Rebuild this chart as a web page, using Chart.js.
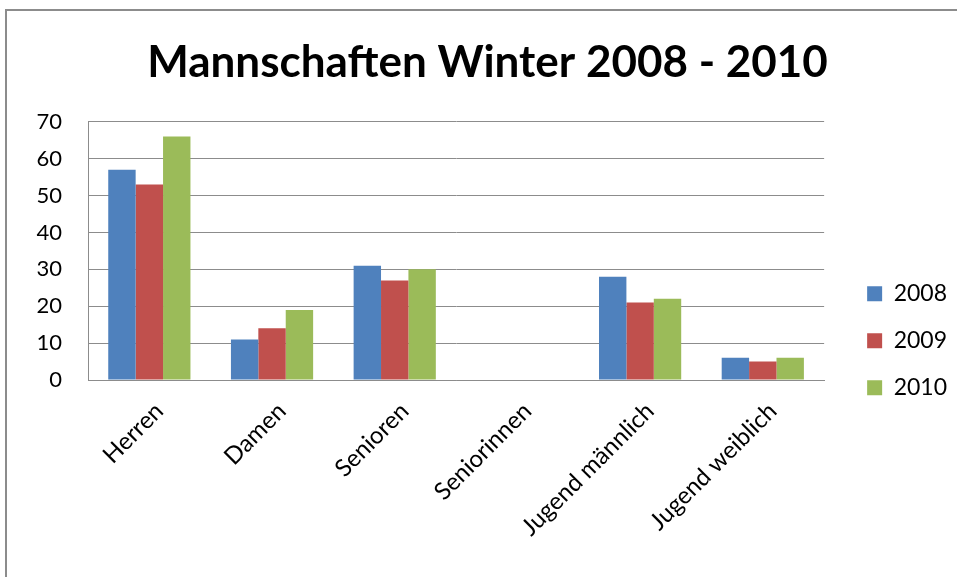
<!DOCTYPE html>
<html>
<head>
<meta charset="utf-8">
<script src="https://cdn.jsdelivr.net/npm/chart.js@4"></script>
<style>
    html, body { margin: 0; padding: 0; background: #fff; overflow: hidden; }
    #wrap { position: relative; width: 957px; height: 577px; }
    #frame {
        position: absolute; left: 5px; top: 9px; width: 1200px; height: 900px;
        border-top: 2px solid #8c8c8c; border-left: 2px solid #8c8c8c;
    }
    canvas { position: absolute; left: 0; top: 0; }
</style>
</head>
<body>
<div id="wrap">
    <div id="frame"></div>
    <canvas id="chart" width="957" height="577"></canvas>
</div>
<script>
// Data
const categories = ['Herren', 'Damen', 'Senioren', 'Seniorinnen', 'Jugend männlich', 'Jugend weiblich'];
const years = ['2008', '2009', '2010'];
const values2008 = [57, 11, 31, 0, 28, 6];
const values2009 = [53, 14, 27, 0, 21, 5];
const values2010 = [66, 19, 30, 0, 22, 6];
const yTicks = [0, 10, 20, 30, 40, 50, 60, 70];

// Excel 2007 colours
const colors = ['#4F81BD', '#C0504D', '#9BBB59'];
const fontFamily = 'Lato, "Open Sans", sans-serif';

const seriesValues = [values2008, values2009, values2010];

const datasets = years.map((year, i) => ({
    label: year,
    data: seriesValues[i],
    backgroundColor: colors[i],
    borderWidth: 0,
    categoryPercentage: 0.67,
    barPercentage: 1.0
}));

const ctx = document.getElementById('chart').getContext('2d');
const chart = new Chart(ctx, {
    type: 'bar',
    data: {
        labels: categories,
        datasets: datasets
    },
    options: {
        responsive: false,
        animation: false,
        layout: {
            padding: { top: 10, left: 18, right: 0, bottom: 0 }
        },
        plugins: {
            title: {
                display: true,
                text: 'Mannschaften Winter 2008 - 2010',
                color: '#000',
                font: { family: fontFamily, size: 44, weight: 'bold' },
                padding: { top: 26, bottom: 33 }
            },
            legend: {
                position: 'right',
                // empty title only pushes the legend entries down
                title: {
                    display: true,
                    text: '',
                    font: { size: 12 },
                    padding: { top: 40, bottom: 40 }
                },
                labels: {
                    boxWidth: 15,
                    boxHeight: 15,
                    padding: 24,
                    color: '#000',
                    font: { family: fontFamily, size: 23 }
                }
            },
            tooltip: { enabled: false }
        },
        scales: {
            x: {
                grid: { display: false },
                border: { display: true, color: '#8c8c8c', width: 1 },
                ticks: {
                    color: '#000',
                    font: { family: fontFamily, size: 24 },
                    maxRotation: 45,
                    minRotation: 45,
                    padding: 9,
                    labelOffset: 10
                },
                afterFit: function(scale) {
                    scale.height = 197;
                }
            },
            y: {
                min: 0,
                max: 70,
                grid: { color: '#8c8c8c', drawTicks: false },
                border: { display: true, color: '#8c8c8c', width: 1 },
                afterBuildTicks: function(scale) {
                    scale.ticks = yTicks.map(v => ({ value: v }));
                },
                ticks: {
                    color: '#000',
                    font: { family: fontFamily, size: 22 },
                    padding: 26
                },
                afterFit: function(scale) {
                    scale.width = 70;
                }
            },
            // empty axis used only as a gap between the plot and the legend
            gap: {
                type: 'linear',
                position: 'right',
                display: true,
                grid: { display: false, drawTicks: false },
                border: { display: false },
                ticks: { display: false },
                afterFit: function(scale) {
                    scale.width = 19;
                }
            }
        }
    }
});
</script>
</body>
</html>
